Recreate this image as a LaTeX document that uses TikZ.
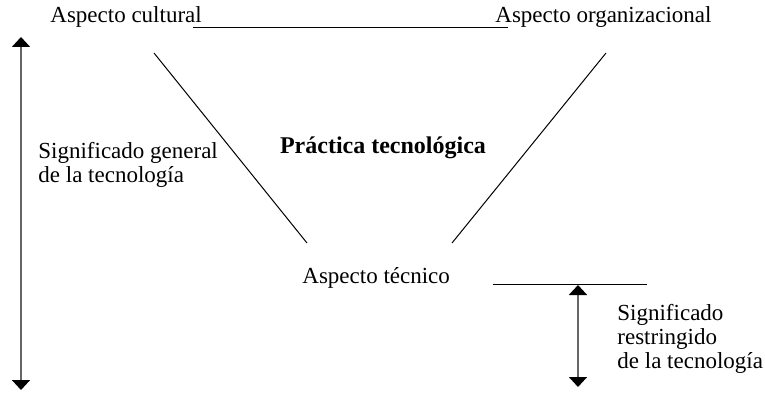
\documentclass[tikz,border=0pt]{standalone}
\usepackage{fontspec}
\setmainfont{Liberation Serif}
\usetikzlibrary{arrows.meta}

\begin{document}
\begin{tikzpicture}[x=0.5pt, y=-0.5pt,
    lbl/.style={inner sep=0pt, font=\fontsize{11.5}{12}\selectfont, align=left},
    edge/.style={black, line width=0.5pt},
    spanarrow/.style={black!60, line width=0.9pt,
      {Triangle[width=9pt,length=5pt,black]}-{Triangle[width=9pt,length=5pt,black]}}]
  \useasboundingbox (0,0) rectangle (765,417);
  % aspect labels
  \node[lbl, anchor=base west] (cultural) at (50,23) {Aspecto cultural};
  \node[lbl, anchor=base west] (organiz) at (495,23) {Aspecto organizacional};
  \node[lbl, anchor=base west] (tecnico) at (302,283) {Aspecto técnico};
  \node[lbl, anchor=base, font=\fontsize{12}{13}\selectfont\bfseries] (practica) at (383,153) {Práctica tecnológica};
  % base anchor sits on the last line
  \node[lbl, anchor=base west] (general) at (38,182) {Significado general\\de la tecnología};
  \node[lbl, anchor=base west] (restr) at (617,368) {Significado\\restringido\\de la tecnología};
  % line ends
  \coordinate (topL) at (193,28);
  \coordinate (topR) at (508,28);
  \coordinate (diagLa) at (154,53);
  \coordinate (diagLb) at (307,243);
  \coordinate (diagRa) at (606,53);
  \coordinate (diagRb) at (452,243);
  \coordinate (lowL) at (493,284);
  \coordinate (lowR) at (647,284);
  \coordinate (genTop) at (21,37);
  \coordinate (genBot) at (21,390);
  \coordinate (resTop) at (578,285);
  \coordinate (resBot) at (578,387);
  % triangle sides
  \draw[edge] (topL) -- (topR);
  \draw[edge] (diagLa) -- (diagLb);
  \draw[edge] (diagRa) -- (diagRb);
  \draw[edge] (lowL) -- (lowR);
  % meaning ranges
  \draw[spanarrow] (genTop) -- (genBot);
  \draw[spanarrow] (resTop) -- (resBot);
\end{tikzpicture}
\end{document}
